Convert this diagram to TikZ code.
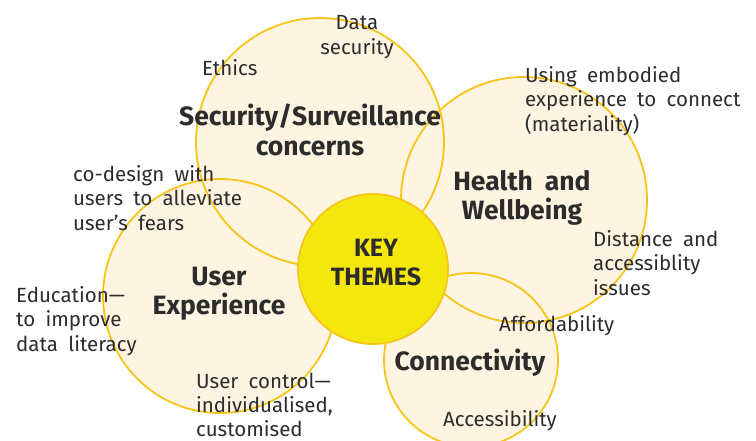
\documentclass[tikz,border=0pt]{standalone}
\usepackage{fontspec}
\setmainfont[WordSpace=1.9]{Fira Sans}
\definecolor{cream}{HTML}{FDF5E1}
\definecolor{gold}{HTML}{F7C419}
\definecolor{keyfill}{HTML}{F3E70D}
\definecolor{ink}{HTML}{2E2B2C}
\begin{document}
\begin{tikzpicture}[x=1pt,y=-1pt,
  bubble/.style={circle, fill=cream, inner sep=0pt, outer sep=0pt},
  ring/.style={circle, draw=gold, line width=1.8pt, inner sep=0pt, outer sep=0pt},
  keynode/.style={circle, fill=keyfill, draw=gold, line width=1.8pt, inner sep=0pt, minimum size=150pt},
  title/.style={text=ink, font=\fontsize{26.5}{29.5}\selectfont\bfseries, align=center, inner sep=0pt},
  note/.style={text=ink, font=\fontsize{20.5}{24.3}\selectfont, align=left, inner sep=0pt, anchor=west},
]
\useasboundingbox (0,0) rectangle (756,441);
\clip (0,0) rectangle (756,441);

% centres of the theme circles
\coordinate (secC) at (320,142);
\coordinate (heaC) at (524,200);
\coordinate (usrC) at (220,296);
\coordinate (conC) at (471,360);
\coordinate (keyC) at (373,269);

% fills first, so every outline stays visible across the overlaps
\node[bubble, minimum size=248pt] (sec) at (secC) {};
\node[bubble, minimum size=246pt] (hea) at (heaC) {};
\node[bubble, minimum size=234pt] (usr) at (usrC) {};
\node[bubble, minimum size=174pt] (con) at (conC) {};

\node[ring, minimum size=248pt] (secR) at (secC) {};
\node[ring, minimum size=246pt] (heaR) at (heaC) {};
\node[ring, minimum size=234pt] (usrR) at (usrC) {};
\node[ring, minimum size=174pt] (conR) at (conC) {};

\node[keynode] (key) at (keyC) {};

% theme titles
\node[title] (tsec) at (310,130) {Security/Surveillance\\concerns};
\node[title] (thea) at (522,198) {Health and\\Wellbeing};
\node[title] (tusr) at (219,294) {User\\Experience};
\node[title] (tcon) at (470,363) {Connectivity};
\node[title, font=\fontsize{25}{29}\selectfont\bfseries] (tkey) at (376,263) {KEY\\THEMES};

% notes around the themes
\node[note] (ethics) at (202,68) {Ethics};
\node[note, anchor=center, align=center] (datasec) at (357,37) {Data\\security};
\node[note] (embodied) at (525,101) {Using embodied\\experience to connect\\(materiality)};
\node[note] (codesign) at (73,198) {co-design with\\users to alleviate\\user’s fears};
\node[note] (distance) at (593,263) {Distance and\\accessiblity\\issues};
\node[note] (afford) at (499,326) {Affordability};
\node[note] (educ) at (16,321) {Education—\\to improve\\data literacy};
\node[note] (control) at (196,405) {User control—\\individualised,\\customised};
\node[note] (access) at (443,421) {Accessibility};
\end{tikzpicture}
\end{document}
